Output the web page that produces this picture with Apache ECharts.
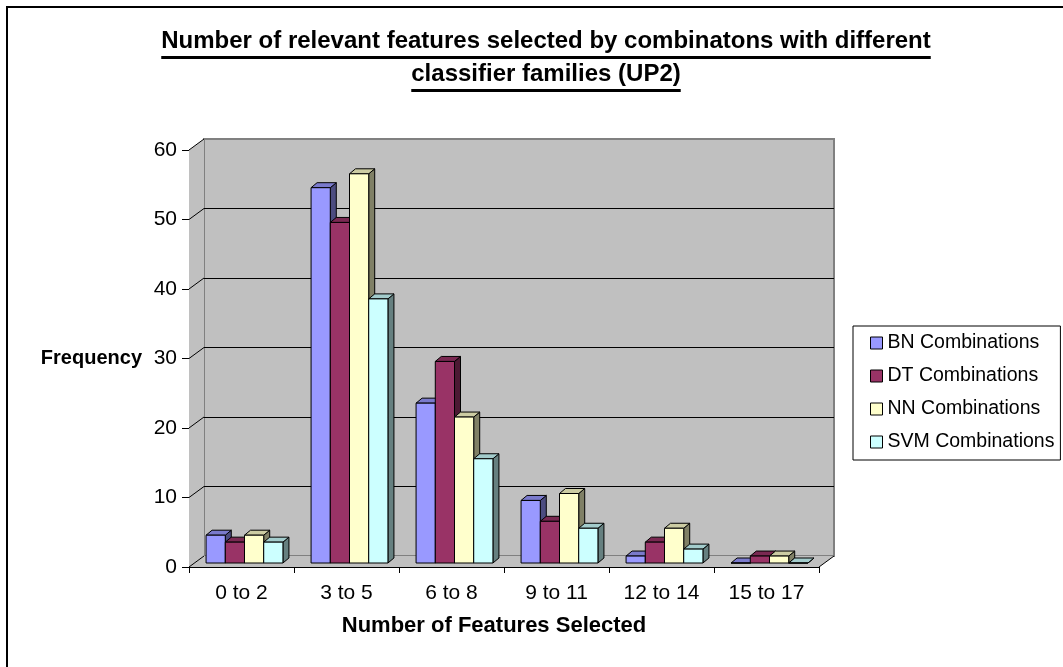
<!DOCTYPE html>
<html>
<head>
<meta charset="utf-8">
<script src="https://cdn.jsdelivr.net/npm/echarts@6/dist/echarts.min.js"></script>
<style>
  html, body { margin: 0; padding: 0; background: #ffffff; }
  #chart { width: 1063px; height: 667px; }
</style>
</head>
<body>
<div id="chart"></div>
<script>
// ---- data ----
const categories = ['0 to 2', '3 to 5', '6 to 8', '9 to 11', '12 to 14', '15 to 17'];
const seriesNames = ['BN Combinations', 'DT Combinations', 'NN Combinations', 'SVM Combinations'];
const bnValues  = [4, 54, 23, 9, 1, 0];
const dtValues  = [3, 49, 29, 6, 3, 1];
const nnValues  = [4, 56, 21, 10, 5, 1];
const svmValues = [3, 38, 15, 5, 2, 0];
const yMin = 0, yMax = 60, yStep = 10;
const titleLines = [
  'Number of relevant features selected by combinatons with different',
  'classifier families (UP2)'
];
const xAxisTitle = 'Number of Features Selected';
const yAxisTitle = 'Frequency';

// ---- styling ----
const FONT = '"Liberation Sans", Arial, Helvetica, sans-serif';
const WALL = '#c0c0c0';
const WALL_EDGE = '#808080';
const DEPTH = [15, -11];      // front plane -> back wall
const BAR_DEPTH = [6, -5];    // thickness of each bar
const BAR_OFFSET = [3, -4];   // bars stand slightly behind the front plane
const BAR_FRACTION = 0.183;   // bar width as share of a category band
const faces = [
  { front: '#9999ff', top: '#7a7acc', side: '#4c4c80' },
  { front: '#993366', top: '#7a2952', side: '#4c1933' },
  { front: '#ffffcc', top: '#cccca3', side: '#808066' },
  { front: '#ccffff', top: '#a3cccc', side: '#668080' }
];
const allValues = [bnValues, dtValues, nnValues, svmValues];

const FRONT = { left: 189, top: 150, width: 630, height: 417 };
const BACK = {
  left: FRONT.left + DEPTH[0], top: FRONT.top + DEPTH[1],
  width: FRONT.width, height: FRONT.height
};

const TITLE_X = 546;
const TITLE_SIZE = 24;

function textWidth(text, font) {
  const ctx = document.createElement('canvas').getContext('2d');
  ctx.font = font;
  return ctx.measureText(text).width;
}

// walls and floor of the 3-D box, built on the front plane's axes
function renderWalls(params, api) {
  const cs = params.coordSys;
  const dx = DEPTH[0], dy = DEPTH[1];
  const x0 = cs.x, x1 = cs.x + cs.width;
  const yTop = cs.y, yBot = cs.y + cs.height;
  const children = [
    {
      type: 'polygon',
      shape: { points: [[x0, yBot], [x0, yTop], [x0 + dx, yTop + dy], [x0 + dx, yBot + dy]] },
      style: { fill: WALL, stroke: null }
    },
    {
      type: 'polygon',
      shape: { points: [[x0, yBot], [x1, yBot], [x1 + dx, yBot + dy], [x0 + dx, yBot + dy]] },
      style: { fill: WALL, stroke: null }
    },
    {
      type: 'line',
      shape: { x1: x1, y1: yBot, x2: x1 + dx, y2: yBot + dy },
      style: { stroke: '#000', lineWidth: 1 }
    }
  ];
  for (let v = yMin; v <= yMax; v += yStep) {
    const y = api.coord([0, v])[1];
    children.push({
      type: 'line',
      shape: { x1: x0, y1: y, x2: x0 + dx, y2: y + dy },
      style: { stroke: '#000', lineWidth: 1 }
    });
  }
  return { type: 'group', children: children };
}

function barRenderer(j) {
  return function (params, api) {
    const i = api.value(0);
    const v = api.value(1);
    const band = api.size([1, 0])[0];
    const w = band * BAR_FRACTION;
    const base = api.coord([i, 0]);
    const top = api.coord([i, v]);
    const x0 = base[0] - 2 * w + j * w + BAR_OFFSET[0];
    const yb = base[1] + BAR_OFFSET[1];
    const yt = top[1] + BAR_OFFSET[1];
    const dx = BAR_DEPTH[0], dy = BAR_DEPTH[1];
    const c = faces[j];
    const edge = { stroke: '#000', lineWidth: 1, lineJoin: 'miter' };
    return {
      type: 'group',
      children: [
        {
          type: 'polygon',
          shape: { points: [[x0 + w, yt], [x0 + w + dx, yt + dy], [x0 + w + dx, yb + dy], [x0 + w, yb]] },
          style: Object.assign({ fill: c.side }, edge)
        },
        {
          type: 'polygon',
          shape: { points: [[x0, yt], [x0 + w, yt], [x0 + w + dx, yt + dy], [x0 + dx, yt + dy]] },
          style: Object.assign({ fill: c.top }, edge)
        },
        {
          type: 'rect',
          shape: { x: x0, y: yt, width: w, height: yb - yt },
          style: Object.assign({ fill: c.front }, edge)
        }
      ]
    };
  };
}

const titleFont = 'bold ' + TITLE_SIZE + 'px ' + FONT;
const underlineY = [57.5, 90.5];
const underlines = titleLines.map(function (line, k) {
  const w = textWidth(line, titleFont);
  return {
    type: 'line',
    silent: true,
    shape: { x1: TITLE_X - w / 2, y1: underlineY[k], x2: TITLE_X + w / 2, y2: underlineY[k] },
    style: { stroke: '#000', lineWidth: 3 }
  };
});

const barSeries = seriesNames.map(function (name, j) {
  return {
    type: 'custom',
    name: name,
    xAxisIndex: 0,
    yAxisIndex: 0,
    z: 3,
    itemStyle: { color: faces[j].front },
    renderItem: barRenderer(j),
    encode: { x: 0, y: 1 },
    data: allValues[j].map(function (v, i) { return [i, v]; })
  };
});

const chart = echarts.init(document.getElementById('chart'), null, { renderer: 'canvas' });
chart.setOption({
  animation: false,
  backgroundColor: '#ffffff',
  textStyle: { fontFamily: FONT, color: '#000' },
  title: {
    text: titleLines.join('\n'),
    left: TITLE_X,
    top: 25,
    padding: 0,
    textAlign: 'center',
    textStyle: { fontFamily: FONT, fontSize: TITLE_SIZE, fontWeight: 'bold', color: '#000', lineHeight: 33 }
  },
  legend: {
    data: seriesNames,
    orient: 'vertical',
    left: 853,
    top: 326,
    padding: [7, 6, 8, 17],
    itemWidth: 12,
    itemHeight: 12,
    itemGap: 13,
    icon: 'rect',
    borderColor: '#000',
    borderWidth: 1,
    backgroundColor: '#ffffff',
    itemStyle: { borderColor: '#000', borderWidth: 1 },
    textStyle: { fontFamily: FONT, fontSize: 19.5, color: '#000', lineHeight: 20 },
    selectedMode: false
  },
  graphic: [
    {
      type: 'rect',
      silent: true,
      z: -10,
      shape: { x: 7, y: 7, width: 1100, height: 700 },
      style: { fill: 'none', stroke: '#000', lineWidth: 2 }
    }
  ].concat(underlines),
  grid: [
    Object.assign({ show: false, containLabel: false }, FRONT),
    Object.assign({
      show: true, containLabel: false, backgroundColor: WALL,
      borderColor: WALL_EDGE, borderWidth: 2
    }, BACK)
  ],
  xAxis: [
    {
      type: 'category',
      gridIndex: 0,
      data: categories,
      boundaryGap: true,
      axisLine: { show: true, lineStyle: { color: '#000', width: 1 } },
      axisTick: { show: true, length: 6, lineStyle: { color: '#000' } },
      axisLabel: { fontFamily: FONT, fontSize: 21, color: '#000', margin: 16, interval: 0 },
      splitLine: { show: false },
      name: xAxisTitle,
      nameLocation: 'middle',
      nameGap: 48,
      nameTextStyle: {
        fontFamily: FONT, fontSize: 22, fontWeight: 'bold', color: '#000',
        padding: [0, 20, 0, 0]
      }
    },
    {
      type: 'category',
      gridIndex: 1,
      data: categories,
      show: false
    }
  ],
  yAxis: [
    {
      type: 'value',
      gridIndex: 0,
      min: yMin, max: yMax, interval: yStep,
      axisLine: { show: true, lineStyle: { color: '#000', width: 1 } },
      axisTick: { show: true, length: 7, lineStyle: { color: '#000' } },
      axisLabel: { fontFamily: FONT, fontSize: 21, color: '#000', margin: 12 },
      splitLine: { show: false },
      name: yAxisTitle,
      nameLocation: 'middle',
      nameRotate: 0,
      nameGap: 47,
      nameTextStyle: { fontFamily: FONT, fontSize: 20, fontWeight: 'bold', color: '#000' }
    },
    {
      type: 'value',
      gridIndex: 1,
      min: yMin, max: yMax, interval: yStep,
      axisLine: { show: false },
      axisTick: { show: false },
      axisLabel: { show: false },
      splitLine: {
        show: true, showMinLine: false, showMaxLine: false,
        lineStyle: { color: '#000', width: 1 }
      }
    }
  ],
  series: [
    {
      type: 'custom',
      name: 'walls',
      xAxisIndex: 0,
      yAxisIndex: 0,
      z: 1,
      silent: true,
      renderItem: renderWalls,
      encode: { x: 0, y: 1 },
      data: [[0, 0]]
    }
  ].concat(barSeries)
});
</script>
</body>
</html>
